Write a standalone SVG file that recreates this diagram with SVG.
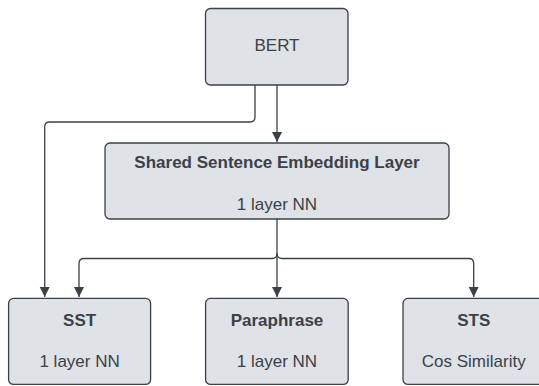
<svg xmlns="http://www.w3.org/2000/svg" width="539" height="386" viewBox="0 0 539 386">
<style>
.box{fill:#dfe2e7;stroke:#3b4149;stroke-width:1.3}
.t{font-family:"Liberation Sans",Arial,sans-serif;font-size:17px;fill:#3b4149;text-anchor:middle}
.b{font-weight:bold}
.c{fill:none;stroke:#3b4149;stroke-width:1.3}
</style>
<defs>
<marker id="ah" viewBox="0 0 10 12" refX="10" refY="6" markerWidth="10" markerHeight="12" markerUnits="userSpaceOnUse" orient="auto">
<path d="M0,1 L10,6 L0,11 Z" fill="#3b4149"/>
</marker>
</defs>
<rect width="539" height="386" fill="#ffffff"/>
<g id="connectors">
<path class="c" d="M255,85 V117 Q255,122 250,122 H49.7 Q44.7,122 44.7,127 V297" marker-end="url(#ah)"/>
<path class="c" d="M277,85 V142" marker-end="url(#ah)"/>
<path class="c" d="M277,219 V297" marker-end="url(#ah)"/>
<path class="c" d="M277,253.5 Q277,258.5 272,258.5 H84 Q79,258.5 79,263.5 V297" marker-end="url(#ah)"/>
<path class="c" d="M277,253.5 Q277,258.5 282,258.5 H468.7 Q473.7,258.5 473.7,263.5 V297" marker-end="url(#ah)"/>
</g>
<g id="bert">
<rect class="box" x="205.5" y="8.5" width="142.5" height="76.5" rx="5"/>
<text class="t" x="277" y="51">BERT</text>
</g>
<g id="shared">
<rect class="box" x="105" y="143" width="344" height="76" rx="5"/>
<text class="t b" x="277" y="168">Shared Sentence Embedding Layer</text>
<text class="t" x="277" y="210">1 layer NN</text>
</g>
<g id="sst">
<rect class="box" x="8.6" y="298.4" width="142" height="86" rx="5"/>
<text class="t b" x="79.6" y="326">SST</text>
<text class="t" x="79.6" y="367">1 layer NN</text>
</g>
<g id="paraphrase">
<rect class="box" x="205.6" y="298.4" width="142.6" height="86" rx="5"/>
<text class="t b" x="277" y="326">Paraphrase</text>
<text class="t" x="277" y="367">1 layer NN</text>
</g>
<g id="sts">
<rect class="box" x="403" y="298.4" width="142" height="86" rx="5"/>
<text class="t b" x="473.7" y="326">STS</text>
<text class="t" x="473.7" y="367">Cos Similarity</text>
</g>
</svg>
